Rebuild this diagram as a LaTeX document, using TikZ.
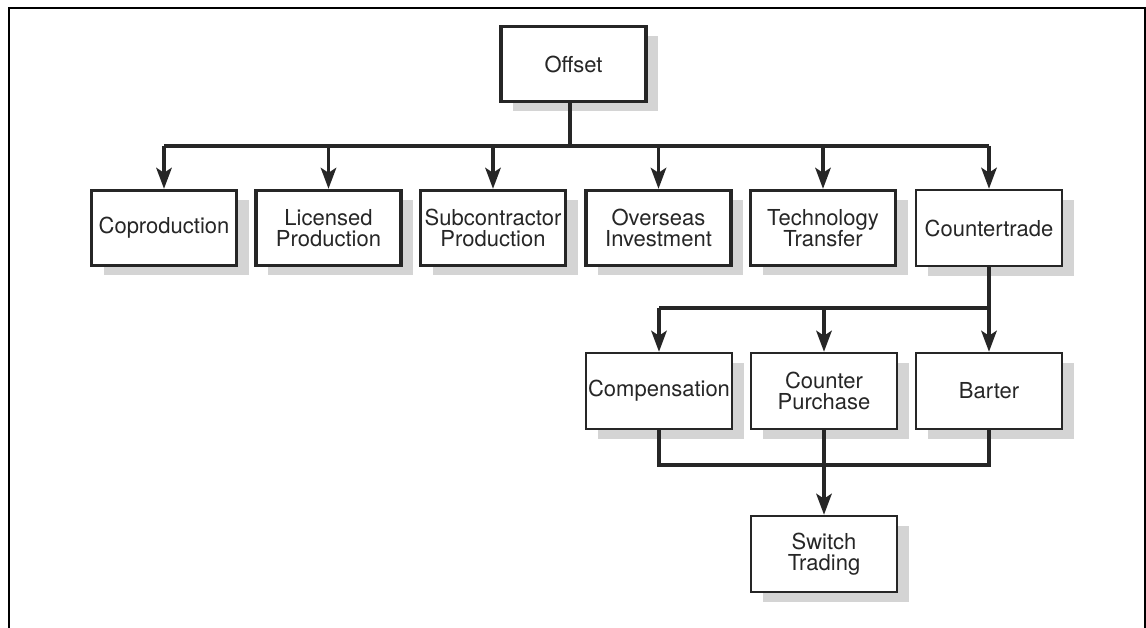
\documentclass[tikz,border=0pt]{standalone}
\usepackage{fontspec}
\setmainfont{TeX Gyre Heros}
\usetikzlibrary{arrows.meta,shadows}
\definecolor{ink}{HTML}{262626}
\definecolor{shade}{HTML}{D4D4D4}
\tikzset{
  box/.style={draw=ink, fill=white, text=ink, align=center,
    minimum width=145pt, minimum height=75pt, inner sep=0pt,
    font=\fontsize{22}{21.5}\selectfont,
    general shadow={fill=shade, shadow xshift=12pt, shadow yshift=-10pt}},
  heavy/.style={box, line width=3.4pt},
  light/.style={box, line width=2pt, minimum width=146.5pt, minimum height=76.5pt},
  link/.style={draw=ink, line width=3.2pt},
  arrow/.style={link, -{Stealth[length=21pt,width=15.5pt,inset=5pt]}},
}
\begin{document}
\begin{tikzpicture}[x=1pt,y=-1pt]
\useasboundingbox (0,0) rectangle (1146,628);
% page frame, open at the bottom
\draw[line width=2.6pt, black] (9,628) -- (9,8) -- (1145,8) -- (1145,628);

% top level
\node[heavy] (off) at (573.5,64) {Offset};

% first row
\node[heavy] (cop) at (164,228)   {Coproduction};
\node[heavy] (lic) at (328.5,228) {Licensed\\Production};
\node[heavy] (sub) at (493,228)   {Subcontractor\\Production};
\node[heavy] (ovi) at (658.5,228) {Overseas\\Investment};
\node[heavy] (tec) at (823,228)   {Technology\\Transfer};
\node[light] (ctr) at (989,228)   {Countertrade};

% countertrade forms
\node[light] (cmp) at (659,391) {Compensation};
\node[light] (cpu) at (824,391) {Counter\\Purchase};
\node[light] (bar) at (989,391) {Barter};

\node[light] (swt) at (824,554) {Switch\\Trading};

% junction points of the branching lines
\coordinate (j1) at (570,146);
\coordinate (j2) at (989,308);
\coordinate (j3) at (824,465);

\draw[link] (off.south -| j1) -- (j1);
\draw[link] (cop.north |- j1) -- (ctr.north |- j1);
\foreach \n in {cop,lic,sub,ovi,tec,ctr}
  \draw[arrow] (\n.north |- j1) -- (\n.north);

\draw[link] (ctr.south) -- (j2);
\draw[link] (cmp.north |- j2) -- (j2);
\foreach \n in {cmp,cpu,bar}
  \draw[arrow] (\n.north |- j2) -- (\n.north);

\draw[link] (cmp.south) |- (j3) -| (bar.south);
\draw[link] (cpu.south) -- (j3);
\draw[arrow] (j3) -- (swt.north);
\end{tikzpicture}
\end{document}
